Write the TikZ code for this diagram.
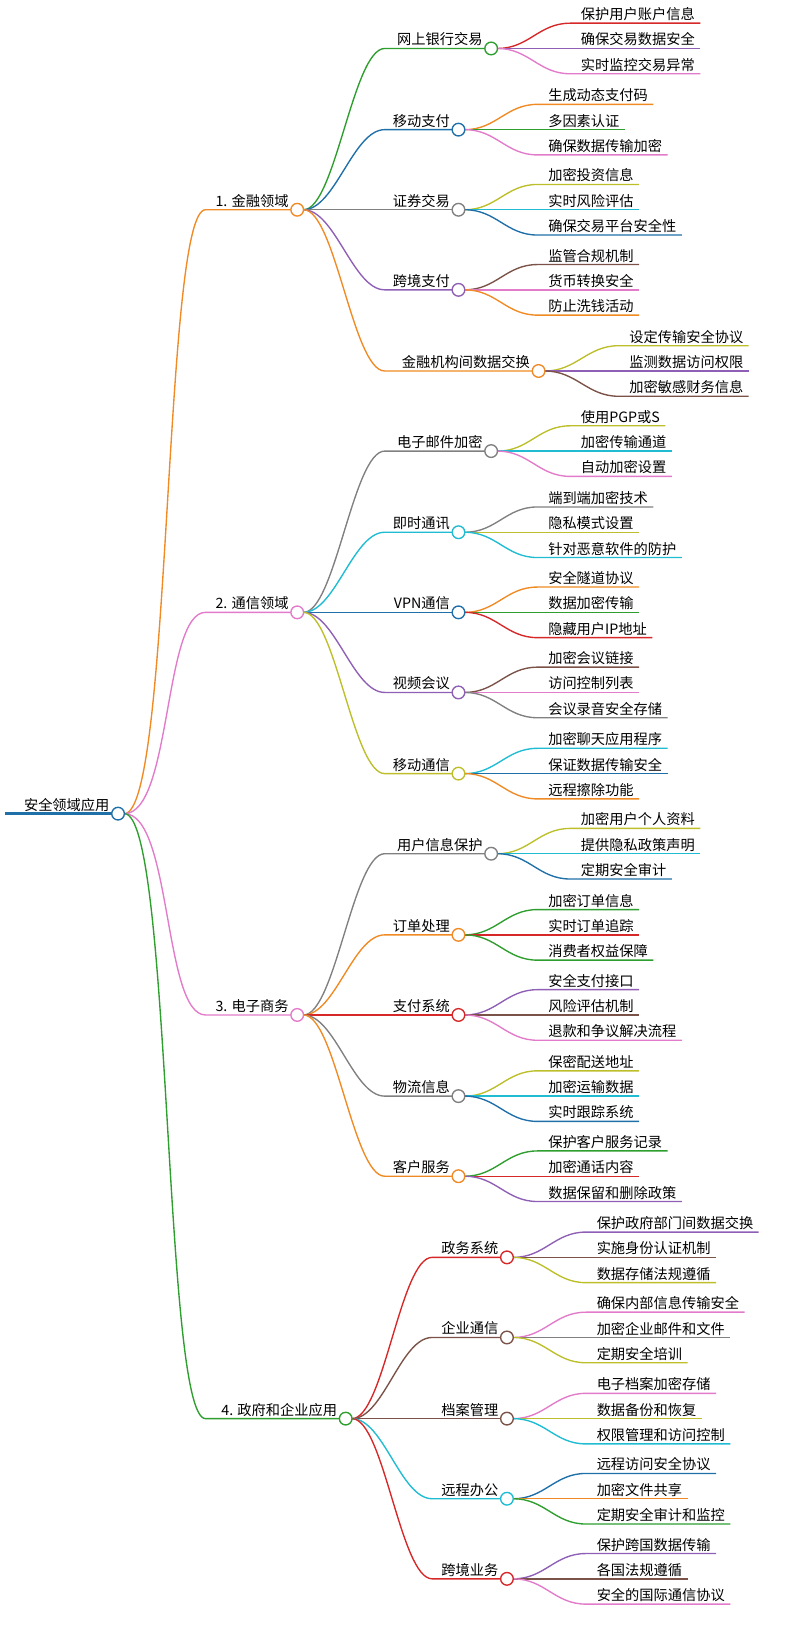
\documentclass[tikz,border=0pt]{standalone}
\usepackage{fontspec}
\setmainfont{Noto Sans CJK SC}
\usetikzlibrary{calc, positioning}
\definecolor{morange}{HTML}{F08A24}
\definecolor{mgreen}{HTML}{2E9E2E}
\definecolor{mblue}{HTML}{1F6FA8}
\definecolor{mgray}{HTML}{808080}
\definecolor{mpurple}{HTML}{8E5FB5}
\definecolor{mred}{HTML}{D62828}
\definecolor{mpink}{HTML}{E27BC9}
\definecolor{molive}{HTML}{BDBF2A}
\definecolor{mcyan}{HTML}{1FBCD2}
\definecolor{mbrown}{HTML}{7B5248}
\tikzset{
  % connector style
  edge/.style={
    line width = 1.3pt
  },
  % text sitting on its line
  label/.style={
    font=\fontsize{13.5}{15}\selectfont
    , inner sep=2pt
    , anchor=south east
  },
  leaftext/.style={
    font=\fontsize{13.5}{15}\selectfont
    , inner xsep=0pt
    , inner ysep=2pt
    , anchor=south west
  },
  % round knot at a branch end
  knot/.style={
    circle
    , draw
    , fill=white
    , line width=1.3pt
    , minimum size=12pt
    , inner sep=0pt
  },
}
% #1 name, #2 x, #3 y, #4 colour, #5 text, #6 parent, #7 start x of line, #8 leaf x, #9 leaves
\newcommand\branch[9]{
  \coordinate (#1) at (#2,#3);
  \node[label] (#1-txt) at ([xshift=-6pt]#1) {#5};
  \draw[edge,#4] ([xshift=6pt]#6) .. controls +(30,0) and +(-30,0) .. (#7,#3) -- (#1);
  \foreach \col/\txt [count=\i] in {#9} {
    \node[leaftext] (#1-\i) at (#8,{#3+(\i-2)*24}) {\txt};
    \draw[edge,\col] ([xshift=6pt]#1) .. controls +(30,0) and +(-30,0)
      .. ([xshift=-10pt]#1-\i.south west) -- ([xshift=5pt]#1-\i.south east);
  }
  \node[knot,draw=#4] (#1-knot) at (#1) {};
}
\begin{document}
\begin{tikzpicture}[x=1pt,y=-1pt]
  \useasboundingbox (0,0) rectangle (745,1557);
  % root
  \coordinate (root) at (112,772);
  \node[label] (root-txt) at ([xshift=-6pt]root) {安全领域应用};
  \draw[line width=3pt,mblue] (5,772) -- (root);

  % level one
  \coordinate (fin) at (282,199);
  \coordinate (com) at (282,581);
  \coordinate (ecom) at (282,963);
  \coordinate (gov) at (328,1346);
  \node[label] (fin-txt) at ([xshift=-6pt]fin) {1. 金融领域};
  \node[label] (com-txt) at ([xshift=-6pt]com) {2. 通信领域};
  \node[label] (ecom-txt) at ([xshift=-6pt]ecom) {3. 电子商务};
  \node[label] (gov-txt) at ([xshift=-6pt]gov) {4. 政府和企业应用};
  \foreach \n/\col in {fin/morange, com/mpink, ecom/mpink, gov/mgreen}
    \draw[edge,\col] ([xshift=6pt]root) .. controls +(45,0) and +(-40,0) .. (\n-txt.south west -| 195,0) -- (\n);

  % 1. finance
  \branch{bank}{466}{46}{mgreen}{网上银行交易}{fin}{365}{551}{mred/保护用户账户信息, mpurple/确保交易数据安全, mpink/实时监控交易异常}
  \branch{mpay}{435}{123}{mblue}{移动支付}{fin}{365}{520}{morange/生成动态支付码, mgreen/多因素认证, mpink/确保数据传输加密}
  \branch{stock}{435}{199}{mgray}{证券交易}{fin}{365}{520}{molive/加密投资信息, mcyan/实时风险评估, mblue/确保交易平台安全性}
  \branch{xpay}{435}{275}{mpurple}{跨境支付}{fin}{365}{520}{mbrown/监管合规机制, mpink/货币转换安全, morange/防止洗钱活动}
  \branch{inst}{511}{352}{morange}{金融机构间数据交换}{fin}{365}{597}{molive/设定传输安全协议, mpurple/监测数据访问权限, mbrown/加密敏感财务信息}

  % 2. communication
  \branch{mail}{466}{428}{mgray}{电子邮件加密}{com}{365}{551}{molive/使用PGP或S/MIME标准, mcyan/加密传输通道, mpink/自动加密设置}
  \branch{chat}{435}{505}{mcyan}{即时通讯}{com}{365}{520}{mgray/端到端加密技术, molive/隐私模式设置, mcyan/针对恶意软件的防护}
  \branch{vpn}{435}{581}{mblue}{VPN通信}{com}{365}{520}{morange/安全隧道协议, mgreen/数据加密传输, mred/隐藏用户IP地址}
  \branch{video}{435}{657}{mpurple}{视频会议}{com}{365}{520}{mbrown/加密会议链接, mpink/访问控制列表, mgray/会议录音安全存储}
  \branch{mobile}{435}{734}{molive}{移动通信}{com}{365}{520}{mcyan/加密聊天应用程序, mblue/保证数据传输安全, morange/远程擦除功能}

  % 3. e-commerce
  \branch{user}{466}{810}{mgray}{用户信息保护}{ecom}{365}{551}{molive/加密用户个人资料, mcyan/提供隐私政策声明, mblue/定期安全审计}
  \branch{order}{435}{887}{morange}{订单处理}{ecom}{365}{520}{mgreen/加密订单信息, mred/实时订单追踪, mgreen/消费者权益保障}
  \branch{paysys}{435}{963}{mred}{支付系统}{ecom}{365}{520}{mpurple/安全支付接口, mbrown/风险评估机制, mpink/退款和争议解决流程}
  \branch{ship}{435}{1040}{mgray}{物流信息}{ecom}{365}{520}{molive/保密配送地址, mcyan/加密运输数据, mblue/实时跟踪系统}
  \branch{service}{435}{1116}{morange}{客户服务}{ecom}{365}{520}{mgreen/保护客户服务记录, mred/加密通话内容, mpurple/数据保留和删除政策}

  % 4. government and enterprise
  \branch{egov}{481}{1193}{mred}{政务系统}{gov}{410}{566}{mpurple/保护政府部门间数据交换, mbrown/实施身份认证机制, molive/数据存储法规遵循}
  \branch{corp}{481}{1269}{mbrown}{企业通信}{gov}{410}{566}{mpink/确保内部信息传输安全, mgray/加密企业邮件和文件, molive/定期安全培训}
  \branch{arch}{481}{1346}{mbrown}{档案管理}{gov}{410}{566}{mpink/电子档案加密存储, molive/数据备份和恢复, mcyan/权限管理和访问控制}
  \branch{remote}{481}{1422}{mcyan}{远程办公}{gov}{410}{566}{mblue/远程访问安全协议, morange/加密文件共享, mgreen/定期安全审计和监控}
  \branch{xbiz}{481}{1498}{mred}{跨境业务}{gov}{410}{566}{mpurple/保护跨国数据传输, mbrown/各国法规遵循, mpink/安全的国际通信协议}

  % knots of the upper levels
  \foreach \n/\col in {fin/morange, com/mpink, ecom/mpink, gov/mgreen, root/mblue}
    \node[knot,draw=\col] (\n-knot) at (\n) {};
\end{tikzpicture}
\end{document}
